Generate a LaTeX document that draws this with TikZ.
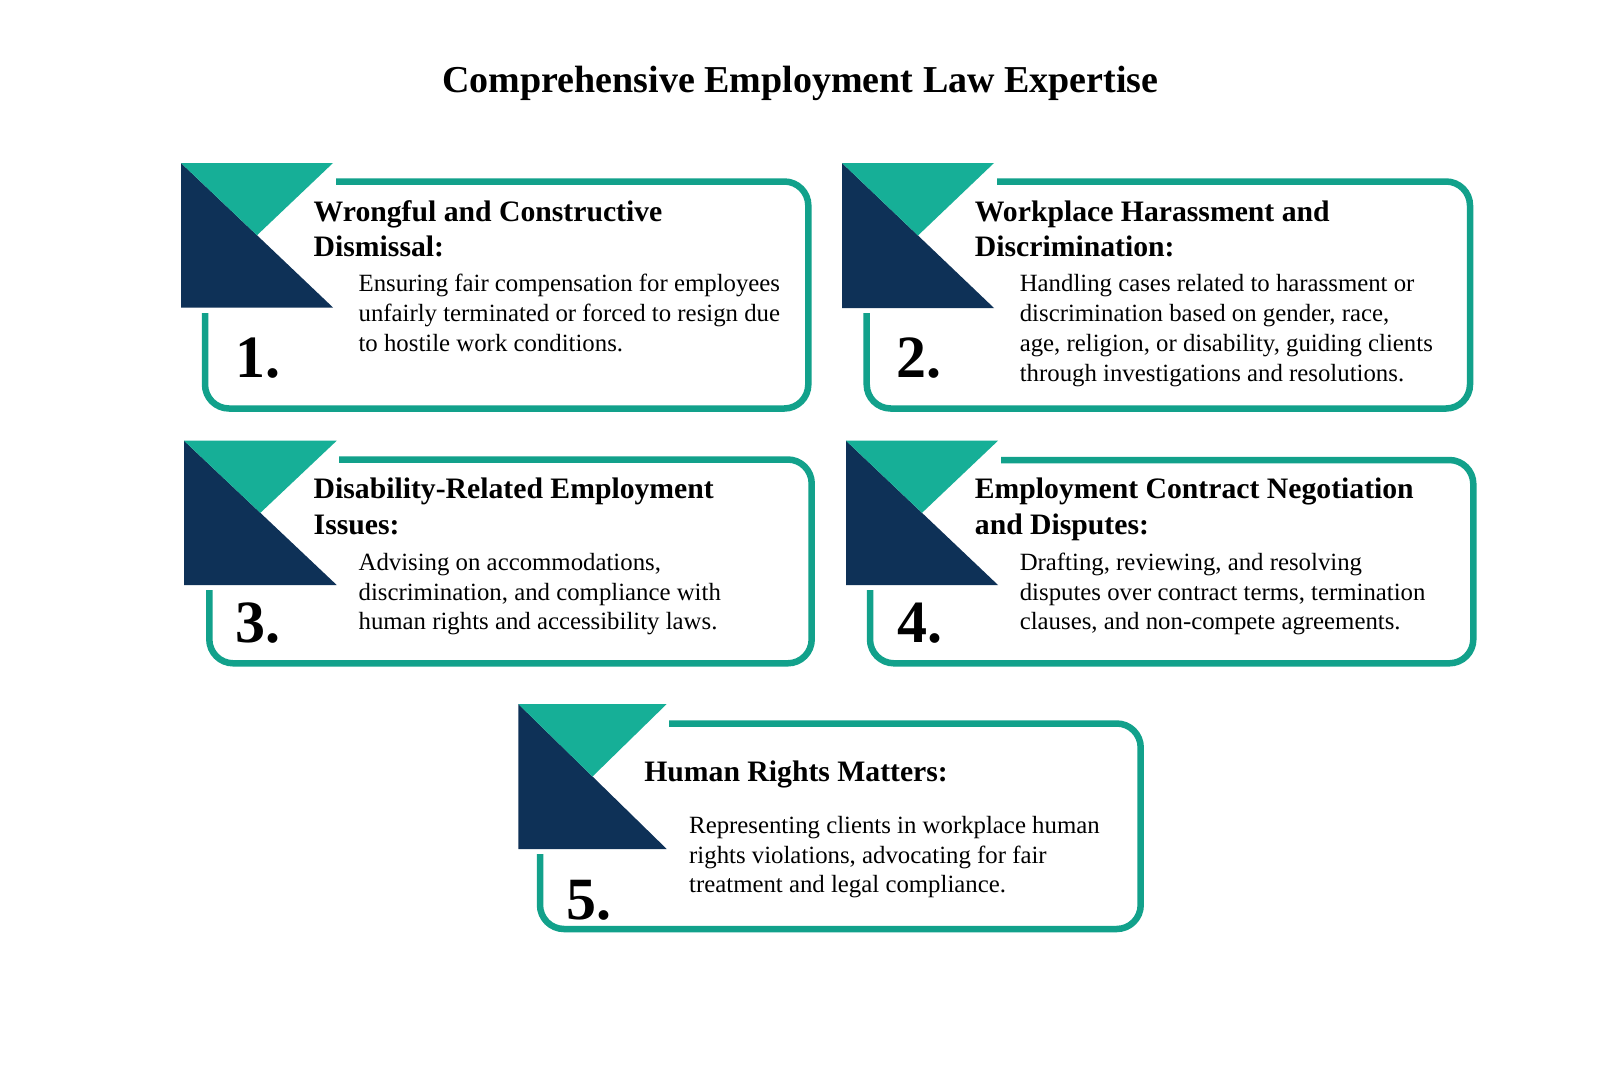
\documentclass[tikz,border=0pt]{standalone}
\usepackage{fontspec}
\setmainfont{Liberation Serif}
\definecolor{navy}{HTML}{0E3157}
\definecolor{tealfill}{HTML}{16AF97}
\definecolor{tealline}{HTML}{12A18B}
\tikzset{
 cardborder/.style={draw=tealline, line width=3.25pt, rounded corners=12pt},
 navyfill/.style={fill=navy},
 tealtri/.style={fill=tealfill},
 titletext/.style={font=\fontsize{19}{23}\selectfont\bfseries, inner sep=0pt, anchor=base},
 headtext/.style={font=\fontsize{14.85}{18}\selectfont\bfseries, inner sep=0pt, anchor=base west},
 bodytext/.style={font=\fontsize{12.4}{15}\selectfont, inner sep=0pt, anchor=base west},
 numtext/.style={font=\fontsize{30}{36}\selectfont\bfseries, inner sep=0pt, anchor=base west},
}
\newcommand\drawcard[8]{%
 \draw[cardborder] (#5,#6) rectangle (#7,#8);
 \fill[white] ({#1-3},{#2-3}) rectangle ({#3+2.5},{#4+5});
 \fill[navyfill] (#1,#2) -- ({(#1+#3)/2},{(#2+#4)/2}) -- (#3,#4) -- (#1,#4) -- cycle;
 \fill[tealtri] (#1,#2) -- (#3,#2) -- ({(#1+#3)/2},{(#2+#4)/2}) -- cycle;
}
\begin{document}
\begin{tikzpicture}[x=0.5pt, y=-0.5pt]
\fill[white] (0,0) rectangle (1600,1066);
\useasboundingbox (0,0) rectangle (1600,1066);

\node[titletext] (title) at (800.5,92) {Comprehensive Employment Law Expertise};

% Card 1
\drawcard{181}{163}{333}{307.5}{205}{181.5}{808.3}{408.5}
\node[headtext] (h1a) at (313.3,221) {Wrongful and Constructive};
\node[headtext] (h1b) at (313.3,256.7) {Dismissal:};
\node[bodytext] (b1a) at (358.2,291.7) {Ensuring fair compensation for employees};
\node[bodytext] (b1b) at (358.2,321.7) {unfairly terminated or forced to resign due};
\node[bodytext] (b1c) at (358.2,351.7) {to hostile work conditions.};
\node[numtext] (n1) at (235,377.3) {1.};

% Card 2
\drawcard{842}{163}{994}{308}{866.7}{181.5}{1470}{408.5}
\node[headtext] (h2a) at (974.5,221) {Workplace Harassment and};
\node[headtext] (h2b) at (974.5,256.7) {Discrimination:};
\node[bodytext] (b2a) at (1019.4,291.7) {Handling cases related to harassment or};
\node[bodytext] (b2b) at (1019.4,321.7) {discrimination based on gender, race,};
\node[bodytext] (b2c) at (1019.4,351.7) {age, religion, or disability, guiding clients};
\node[bodytext] (b2d) at (1019.4,381.7) {through investigations and resolutions.};
\node[numtext] (n2) at (896,377.3) {2.};

% Card 3
\drawcard{184}{440.7}{336.7}{585}{209.3}{459.5}{811.7}{663.3}
\node[headtext] (h3a) at (313.3,498.3) {Disability-Related Employment};
\node[headtext] (h3b) at (313.3,534) {Issues:};
\node[bodytext] (b3a) at (358.2,570) {Advising on accommodations,};
\node[bodytext] (b3b) at (358.2,600) {discrimination, and compliance with};
\node[bodytext] (b3c) at (358.2,629.5) {human rights and accessibility laws.};
\node[numtext] (n3) at (235,642.7) {3.};

% Card 4
\drawcard{846}{440.7}{998}{585}{870}{460}{1473.3}{663.3}
\node[headtext] (h4a) at (974.5,498.3) {Employment Contract Negotiation};
\node[headtext] (h4b) at (974.5,534) {and Disputes:};
\node[bodytext] (b4a) at (1019.4,570) {Drafting, reviewing, and resolving};
\node[bodytext] (b4b) at (1019.4,600) {disputes over contract terms, termination};
\node[bodytext] (b4c) at (1019.4,629.5) {clauses, and non-compete agreements.};
\node[numtext] (n4) at (897,642.5) {4.};

% Card 5
\drawcard{518.3}{704}{666.7}{849}{540}{723.5}{1140.7}{929}
\node[headtext] (h5a) at (643.9,781) {Human Rights Matters:};
\node[bodytext] (b5a) at (688.8,833.5) {Representing clients in workplace human};
\node[bodytext] (b5b) at (688.8,863) {rights violations, advocating for fair};
\node[bodytext] (b5c) at (688.8,892.7) {treatment and legal compliance.};
\node[numtext] (n5) at (566,919.3) {5.};
\end{tikzpicture}
\end{document}
